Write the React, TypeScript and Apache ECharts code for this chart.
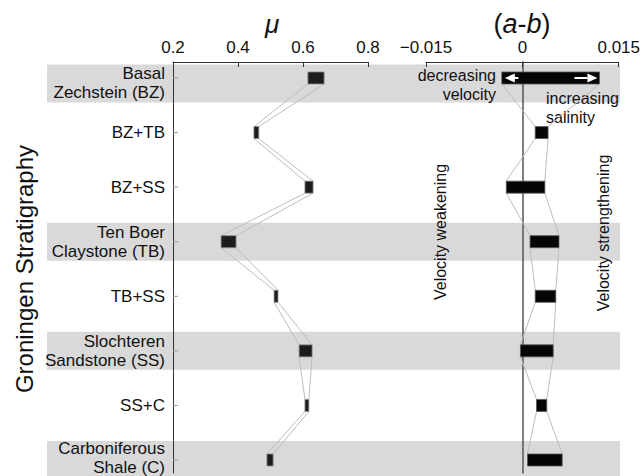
import React, { useEffect, useRef } from "react";
import * as echarts from "echarts";

const CATEGORIES = [
  "Basal\nZechstein (BZ)",
  "BZ+TB",
  "BZ+SS",
  "Ten Boer\nClaystone (TB)",
  "TB+SS",
  "Slochteren\nSandstone (SS)",
  "SS+C",
  "Carboniferous\nShale (C)",
];
const MU_MIN = [0.615, 0.449, 0.606, 0.348, 0.511, 0.588, 0.606, 0.489];
const MU_MAX = [0.665, 0.464, 0.631, 0.394, 0.523, 0.628, 0.618, 0.508];
const AB_MIN = [-0.0032, 0.002, -0.0025, 0.0012, 0.002, -0.0003, 0.0022, 0.0008];
const AB_MAX = [0.012, 0.004, 0.0035, 0.0057, 0.0052, 0.0048, 0.0038, 0.0062];
const BANDS = [0, 3, 5, 7];

const FONT = "'Liberation Sans', Arial, sans-serif";
const Y_MIN = -0.293;
const Y_MAX = 7.238;
const BOX_H = 12;

// label/band nudges for the first and last rows (layout only)
const rowShift = (i: number) => (i === 0 ? 5.5 : i === CATEGORIES.length - 1 ? -2 : 0);

function makeRender(mins: number[], maxs: number[], fill: string, stroke: string, arrows: boolean) {
  return (params: any, api: any) => {
    const i = api.value(2);
    const lo = api.coord([api.value(0), i]);
    const hi = api.coord([api.value(1), i]);
    const children: any[] = [];
    if (i < mins.length - 1) {
      const nlo = api.coord([mins[i + 1], i + 1]);
      const nhi = api.coord([maxs[i + 1], i + 1]);
      children.push({
        type: "line",
        shape: { x1: lo[0], y1: lo[1] + BOX_H / 2, x2: nlo[0], y2: nlo[1] - BOX_H / 2 },
        style: { stroke: "#bdbdbd", lineWidth: 1 },
      });
      children.push({
        type: "line",
        shape: { x1: hi[0], y1: hi[1] + BOX_H / 2, x2: nhi[0], y2: nhi[1] - BOX_H / 2 },
        style: { stroke: "#bdbdbd", lineWidth: 1 },
      });
    }
    children.push({
      type: "rect",
      shape: { x: lo[0], y: lo[1] - BOX_H / 2, width: hi[0] - lo[0], height: BOX_H },
      style: { fill, stroke, lineWidth: 0.8 },
    });
    if (arrows && i === 0) {
      const zx = api.coord([0, i])[0];
      const yc = lo[1];
      children.push({
        type: "line",
        shape: { x1: lo[0] + 12, y1: yc, x2: zx - 4, y2: yc },
        style: { stroke: "#fff", lineWidth: 2 },
      });
      children.push({
        type: "polygon",
        shape: { points: [[lo[0] + 3, yc], [lo[0] + 13, yc - 4.5], [lo[0] + 13, yc + 4.5]] },
        style: { fill: "#fff" },
      });
      children.push({
        type: "line",
        shape: { x1: hi[0] - 25, y1: yc, x2: hi[0] - 12, y2: yc },
        style: { stroke: "#fff", lineWidth: 2 },
      });
      children.push({
        type: "polygon",
        shape: { points: [[hi[0] - 2, yc], [hi[0] - 12, yc - 4.5], [hi[0] - 12, yc + 4.5]] },
        style: { fill: "#fff" },
      });
    }
    return { type: "group", children };
  };
}

export default function App() {
  const ref = useRef<HTMLDivElement>(null);
  useEffect(() => {
    if (!ref.current) return;
    const chart = echarts.init(ref.current, null, { renderer: "svg" });
    const axisLine = { show: true, onZero: false, lineStyle: { color: "#333", width: 1 } };
    const option: any = {
      animation: false,
      backgroundColor: "#fff",
      textStyle: { fontFamily: FONT },
      grid: [
        { left: 173, width: 195, top: 62, height: 411 },
        { left: 426, width: 195, top: 62, height: 411 },
      ],
      xAxis: [
        {
          gridIndex: 0,
          type: "value",
          position: "top",
          min: 0.2,
          max: 0.8,
          interval: 0.2,
          axisLine,
          axisTick: { show: true, inside: true, length: 5, lineStyle: { color: "#333" } },
          axisLabel: {
            margin: 6,
            fontSize: 17,
            color: "#111",
            fontFamily: FONT,
            formatter: (v: number) => v.toFixed(1),
          },
          splitLine: { show: false },
        },
        {
          gridIndex: 1,
          type: "value",
          position: "top",
          min: -0.015,
          max: 0.015,
          interval: 0.015,
          axisLine,
          axisTick: { show: true, inside: true, length: 5, lineStyle: { color: "#333" } },
          axisLabel: {
            margin: 6,
            fontSize: 17,
            color: "#111",
            fontFamily: FONT,
            formatter: (v: number) =>
              Math.abs(v) < 1e-9 ? "0" : v < 0 ? "\u2212" + Math.abs(v).toFixed(3) : v.toFixed(3),
          },
          splitLine: { show: false },
        },
      ],
      yAxis: [
        {
          gridIndex: 0,
          type: "value",
          inverse: true,
          min: Y_MIN,
          max: Y_MAX,
          axisLine,
          axisTick: { show: false },
          axisLabel: { show: false },
          splitLine: { show: false },
        },
        {
          gridIndex: 1,
          type: "value",
          inverse: true,
          min: Y_MIN,
          max: Y_MAX,
          axisLine: { show: true, onZero: true, lineStyle: { color: "#555", width: 1.5 } },
          axisTick: { show: false },
          axisLabel: { show: false },
          splitLine: { show: false },
        },
      ],
      series: [
        {
          type: "custom",
          xAxisIndex: 0,
          yAxisIndex: 0,
          z: -1,
          silent: true,
          data: BANDS.map((b) => [0.5, b]),
          renderItem: (params: any, api: any) => {
            const i = api.value(1);
            const y = api.coord([0.5, i])[1] + (i === 0 ? rowShift(0) : 0);
            return {
              type: "rect",
              shape: { x: 47, y: y - 19, width: 573, height: 38 },
              style: { fill: "#d9d9d9" },
            };
          },
        },
        {
          type: "custom",
          xAxisIndex: 0,
          yAxisIndex: 0,
          z: 3,
          silent: true,
          data: CATEGORIES.map((_, i) => [0.2, i]),
          renderItem: (params: any, api: any) => {
            const i = api.value(1);
            const p = api.coord([0.2, i]);
            return {
              type: "group",
              children: [
                {
                  type: "line",
                  shape: { x1: p[0], y1: p[1], x2: p[0] + 5, y2: p[1] },
                  style: { stroke: "#999", lineWidth: 1 },
                },
                {
                  type: "text",
                  x: p[0] - 8,
                  y: p[1] + rowShift(i),
                  style: {
                    text: CATEGORIES[i],
                    font: `17px ${FONT}`,
                    lineHeight: 19,
                    fill: "#111",
                    align: "right",
                    verticalAlign: "middle",
                  },
                },
              ],
            };
          },
        },
        {
          type: "custom",
          xAxisIndex: 0,
          yAxisIndex: 0,
          data: CATEGORIES.map((_, i) => [MU_MIN[i], MU_MAX[i], i]),
          encode: { x: [0, 1], y: 2 },
          renderItem: makeRender(MU_MIN, MU_MAX, "#1c1c1c", "#8a8a8a", false),
        },
        {
          type: "custom",
          xAxisIndex: 1,
          yAxisIndex: 1,
          data: CATEGORIES.map((_, i) => [AB_MIN[i], AB_MAX[i], i]),
          encode: { x: [0, 1], y: 2 },
          renderItem: makeRender(AB_MIN, AB_MAX, "#050505", "#555", true),
        },
      ],
      graphic: [
        {
          type: "text",
          x: 272,
          y: 24,
          style: {
            text: "\u03bc",
            font: `italic 26px ${FONT}`,
            fill: "#111",
            align: "center",
            verticalAlign: "middle",
          },
        },
        {
          type: "text",
          x: 522,
          y: 24,
          style: {
            text: "{n|(}{i|a}{n|-}{i|b}{n|)}",
            fill: "#111",
            align: "center",
            verticalAlign: "middle",
            rich: {
              n: { fontSize: 27, fontFamily: FONT, fill: "#111" },
              i: { fontSize: 27, fontFamily: FONT, fontStyle: "italic", fill: "#111" },
            },
          },
        },
        {
          type: "text",
          x: 24,
          y: 269,
          rotation: Math.PI / 2,
          style: {
            text: "Groningen Stratigraphy",
            font: `24px ${FONT}`,
            fill: "#111",
            align: "center",
            verticalAlign: "middle",
          },
        },
        {
          type: "text",
          x: 440,
          y: 232,
          rotation: Math.PI / 2,
          style: {
            text: "Velocity weakening",
            font: `16px ${FONT}`,
            fill: "#111",
            align: "center",
            verticalAlign: "middle",
          },
        },
        {
          type: "text",
          x: 603,
          y: 233,
          rotation: Math.PI / 2,
          style: {
            text: "Velocity strengthening",
            font: `16px ${FONT}`,
            fill: "#111",
            align: "center",
            verticalAlign: "middle",
          },
        },
        {
          type: "text",
          x: 496,
          y: 66,
          style: {
            text: "decreasing\nvelocity",
            font: `16px ${FONT}`,
            lineHeight: 19,
            fill: "#111",
            align: "right",
            verticalAlign: "top",
          },
        },
        {
          type: "text",
          x: 546,
          y: 89,
          style: {
            text: "increasing\nsalinity",
            font: `16px ${FONT}`,
            lineHeight: 19,
            fill: "#111",
            align: "left",
            verticalAlign: "top",
          },
        },
      ],
    };
    chart.setOption(option);
    return () => chart.dispose();
  }, []);
  return (
    <div
      ref={ref}
      style={{ position: "fixed", left: 0, top: 0, width: 643, height: 476 }}
    />
  );
}
